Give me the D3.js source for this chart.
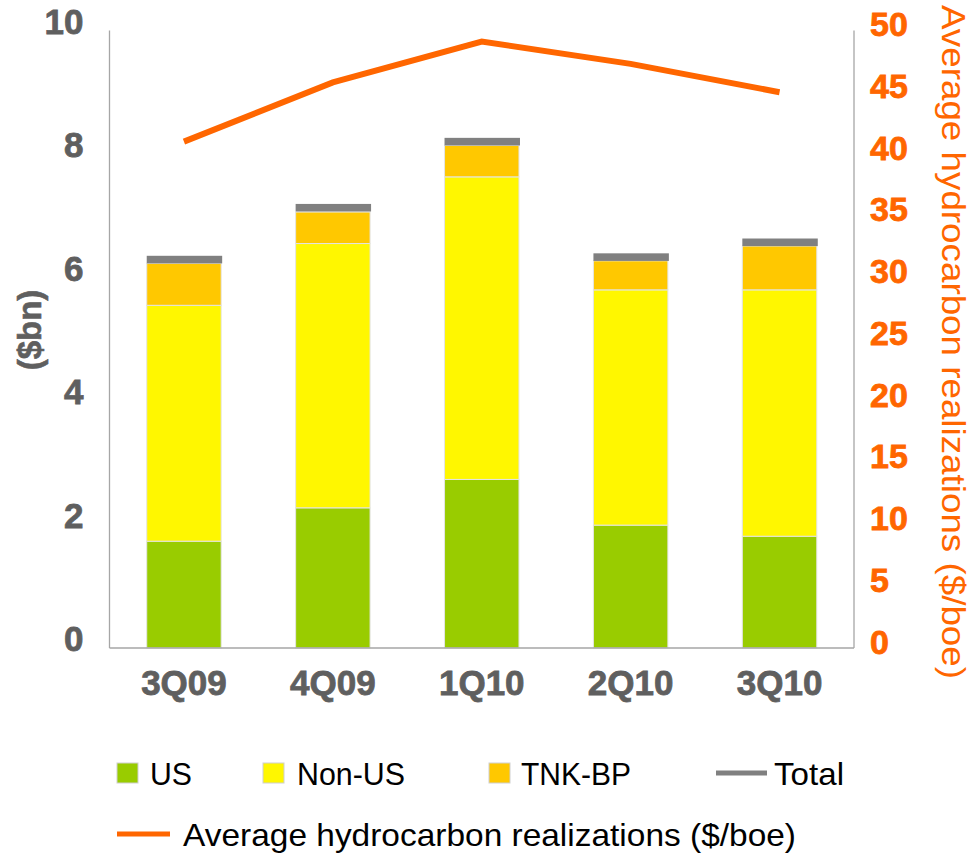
<!DOCTYPE html>
<html>
<head>
<meta charset="utf-8">
<script src="https://cdn.jsdelivr.net/npm/d3@7"></script>
<style>
  html, body { margin: 0; padding: 0; background: #fff; }
  svg { display: block; }
</style>
</head>
<body>
<svg id="chart" width="972" height="855"></svg>
<script>
// ---- data ----
const categories = ["3Q09", "4Q09", "1Q10", "2Q10", "3Q10"];
const usValues = [1.73, 2.27, 2.73, 1.99, 1.81];
const nonUsValues = [3.82, 4.28, 4.90, 3.81, 3.99];
const tnkValues = [0.68, 0.51, 0.51, 0.47, 0.71];
const totalValues = [6.29, 7.13, 8.20, 6.33, 6.57];
const realizations = [41.0, 45.8, 49.1, 47.3, 45.0];
const leftTicks = [0, 2, 4, 6, 8, 10];
const rightTicks = [0, 5, 10, 15, 20, 25, 30, 35, 40, 45, 50];
const seriesNames = ["US", "Non-US", "TNK-BP"];
const totalName = "Total";
const lineName = "Average hydrocarbon realizations ($/boe)";
const leftTitle = "($bn)";

(function () {
// ---- styles ----
const colors = { "US": "#99cc00", "Non-US": "#fff700", "TNK-BP": "#ffc800" };
const totalColor = "#808080";
const lineColor = "#ff6600";
const axisTextColor = "#5f5f5f";
const axisLineColor = "#a6a6a6";
const boldFont = "'Liberation Sans', Arial, sans-serif";
const lightFont = "'Liberation Sans', Arial, sans-serif";

const svg = d3.select("#chart");
const pLeft = 109.5, pRight = 854, pTop = 30.5, pBottom = 648;

const x = d3.scaleBand().domain(categories).range([pLeft, pRight])
  .paddingInner(0.5).paddingOuter(0.25);
const y = d3.scaleLinear().domain([0, 10]).range([pBottom, pTop]);
const y2 = d3.scaleLinear().domain([0, 50]).range([pBottom, pTop]);

// stacked data
const table = categories.map((c, i) => ({
  cat: c, "US": usValues[i], "Non-US": nonUsValues[i], "TNK-BP": tnkValues[i]
}));
const stack = d3.stack().keys(seriesNames)(table);

// bars
const g = svg.append("g");
stack.forEach(layer => {
  g.selectAll(null).data(layer).enter().append("rect")
    .attr("x", d => x(d.data.cat))
    .attr("width", x.bandwidth())
    .attr("y", d => y(d[1]))
    .attr("height", d => y(d[0]) - y(d[1]))
    .attr("fill", colors[layer.key])
    .attr("stroke", "#e4e4e4")
    .attr("stroke-width", 1);
});

// total markers
const totalThickness = y(0) - y(0.123);
g.selectAll(null).data(totalValues).enter().append("rect")
  .attr("x", (d, i) => x(categories[i]))
  .attr("width", x.bandwidth() + 1)
  .attr("y", d => y(d) - totalThickness / 2)
  .attr("height", totalThickness)
  .attr("fill", totalColor);

// axes lines (no ticks)
const axG = svg.append("g").attr("stroke", axisLineColor).attr("stroke-width", 1.3).attr("fill", "none");
axG.append("line").attr("x1", pLeft).attr("x2", pLeft).attr("y1", pTop).attr("y2", pBottom);
axG.append("line").attr("x1", pRight).attr("x2", pRight).attr("y1", pTop).attr("y2", pBottom);
axG.append("line").attr("x1", pLeft).attr("x2", pRight).attr("y1", pBottom).attr("y2", pBottom);

// left axis (labels only)
const leftAxis = svg.append("g").attr("transform", `translate(${pLeft},0)`)
  .call(d3.axisLeft(y).tickValues(leftTicks).tickSize(0).tickPadding(26).tickFormat(d3.format("d")));
leftAxis.select(".domain").remove();
leftAxis.selectAll("text")
  .attr("fill", axisTextColor)
  .attr("font-family", boldFont)
  .attr("font-weight", "bold")
  .attr("font-size", 35)
  .attr("stroke", axisTextColor).attr("stroke-width", 0.8)
  .attr("dy", "0.08em");

// right axis
const rightAxis = svg.append("g").attr("transform", `translate(${pRight},0)`)
  .call(d3.axisRight(y2).tickValues(rightTicks).tickSize(0).tickPadding(16).tickFormat(d3.format("d")));
rightAxis.select(".domain").remove();
rightAxis.selectAll("text")
  .attr("fill", lineColor)
  .attr("font-family", boldFont)
  .attr("font-weight", "bold")
  .attr("font-size", 34)
  .attr("stroke", lineColor).attr("stroke-width", 0.8)
  .attr("dy", "0.15em");

// x axis labels
const xAxis = svg.append("g").attr("transform", `translate(0,${pBottom})`)
  .call(d3.axisBottom(x).tickSize(0).tickPadding(22));
xAxis.select(".domain").remove();
xAxis.selectAll("text")
  .attr("fill", axisTextColor)
  .attr("font-family", boldFont)
  .attr("font-weight", "bold")
  .attr("font-size", 35)
  .attr("stroke", axisTextColor).attr("stroke-width", 0.8)
  .attr("dy", "0.71em");

// left title
svg.append("text")
  .attr("transform", "translate(41,330) rotate(-90)")
  .attr("text-anchor", "middle")
  .attr("fill", axisTextColor)
  .attr("font-family", boldFont)
  .attr("font-weight", "bold")
  .attr("font-size", 33)
  .attr("stroke", axisTextColor).attr("stroke-width", 0.6)
  .text(leftTitle);

// right title
svg.append("text")
  .attr("transform", "translate(942,5) rotate(90)")
  .attr("text-anchor", "start")
  .attr("fill", lineColor)
  .attr("font-family", lightFont)
  .attr("font-size", 33)
  .attr("textLength", 674)
  .attr("lengthAdjust", "spacingAndGlyphs")
  .text(lineName);

// line
const line = d3.line()
  .x((d, i) => x(categories[i]) + x.bandwidth() / 2)
  .y(d => y2(d));
svg.append("path")
  .datum(realizations)
  .attr("d", line)
  .attr("fill", "none")
  .attr("stroke", lineColor)
  .attr("stroke-width", 6)
  .attr("stroke-linejoin", "miter");

// legend
const lg = svg.append("g");
const swatchX = [117, 263, 489];
const textX = [150, 297, 521];
const textW = [42, 108, 110];
seriesNames.forEach((n, i) => {
  lg.append("rect").attr("x", swatchX[i]).attr("y", 763).attr("width", 21).attr("height", 20)
    .attr("fill", colors[n]).attr("stroke", "#cfcfcf").attr("stroke-width", 1);
  lg.append("text").attr("x", textX[i]).attr("y", 785)
    .attr("font-family", lightFont).attr("font-size", 32).attr("fill", "#000")
    .attr("textLength", textW[i]).attr("lengthAdjust", "spacingAndGlyphs")
    .text(n);
});
lg.append("line").attr("x1", 716).attr("x2", 767).attr("y1", 773).attr("y2", 773)
  .attr("stroke", totalColor).attr("stroke-width", 5);
lg.append("text").attr("x", 774).attr("y", 785)
  .attr("font-family", lightFont).attr("font-size", 32).attr("fill", "#000")
  .attr("textLength", 70).attr("lengthAdjust", "spacingAndGlyphs")
  .text(totalName);
lg.append("line").attr("x1", 117).attr("x2", 170).attr("y1", 834).attr("y2", 834)
  .attr("stroke", lineColor).attr("stroke-width", 5);
lg.append("text").attr("x", 183).attr("y", 846)
  .attr("font-family", lightFont).attr("font-size", 32).attr("fill", "#000")
  .attr("textLength", 613).attr("lengthAdjust", "spacingAndGlyphs")
  .text(lineName);
})();
</script>
</body>
</html>
